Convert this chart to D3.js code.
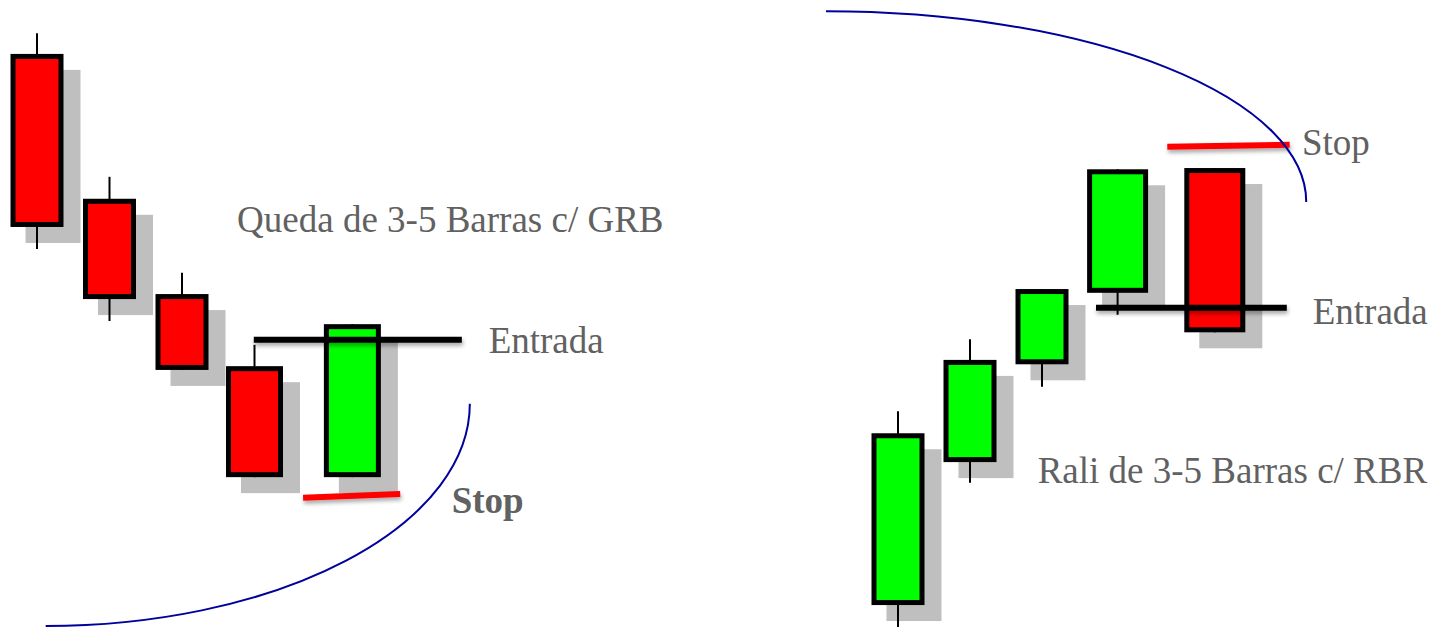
<!DOCTYPE html>
<html>
<head>
<meta charset="utf-8">
<script src="https://cdn.jsdelivr.net/npm/d3@7"></script>
<style>
  body { margin: 0; background: #fff; }
  svg { display: block; }
  .label { font-family: "Liberation Serif", "Times New Roman", serif; font-size: 37px; fill: #616161; }
</style>
</head>
<body>
<script>
// candle data, price units (0..100)
var leftOpen  = [91.4, 68.3, 53.1, 41.6, 23.9];
var leftHigh  = [94.7, 71.8, 56.5, 45.0, 48.3];
var leftLow   = [60.3, 48.8, 41.0, 23.9, 23.9];
var leftClose = [63.8, 52.3, 41.0, 23.9, 48.3];
var leftSlot  = [0, 1, 2, 3, 4.35];

var rightOpen  = [3.5, 26.3, 41.9, 53.3, 73.2];
var rightHigh  = [34.4, 45.9, 53.9, 73.0, 73.2];
var rightLow   = [-1.0, 23.0, 38.3, 49.8, 47.0];
var rightClose = [30.9, 42.6, 53.9, 73.0, 47.0];
var rightSlot  = [0, 1, 2, 3.05, 4.4];

// entry / stop levels: [x1, y1, x2, y2]
var leftEntry  = [2.99, 45.8, 5.86, 45.8];
var leftStop   = [3.67, 20.6, 5.01, 21.2];
var rightEntry = [2.75, 50.9, 5.40, 50.9];
var rightStop  = [3.74, 76.6, 5.44, 76.9];

// curve end points: [xStart, yStart, xEnd, yEnd]
var leftCurve  = [5.97, 35.6, 0.12, 0.16];
var rightCurve = [-1.0, 98.2, 5.67, 67.8];

// labels
var leftLabels  = ["Queda de 3-5 Barras c/ GRB", "Entrada", "Stop"];
var leftLabelX  = [2.76, 6.23, 5.72];
var leftLabelY  = [63.0, 43.7, 18.2];
var rightLabels = ["Rali de 3-5 Barras c/ RBR", "Entrada", "Stop"];
var rightLabelX = [1.94, 5.76, 5.61];
var rightLabelY = [23.0, 48.3, 75.3];

var width = 1435, height = 627;

var svg = d3.select("body").append("svg")
    .attr("width", width)
    .attr("height", height);

// drop shadow under the entry/stop lines (user space, so flat lines still show)
var defs = svg.append("defs");
var f = defs.append("filter").attr("id", "lineShadow")
    .attr("filterUnits", "userSpaceOnUse")
    .attr("x", 0).attr("y", 0).attr("width", width).attr("height", height);
f.append("feDropShadow")
    .attr("dx", 1).attr("dy", 3).attr("stdDeviation", 2)
    .attr("flood-color", "#000").attr("flood-opacity", 0.35);

var y = d3.scaleLinear().domain([0, 100]).range([627, 0]);

var drawPanel = function(cfg) {
    var x = d3.scaleLinear().domain([0, 1]).range(cfg.xRange);
    var data = cfg.open.map(function(o, i) {
        return {open: o, high: cfg.high[i], low: cfg.low[i], close: cfg.close[i], slot: cfg.slot[i],
                w: i >= cfg.open.length - 2 ? cfg.wideW : 53};
    });
    var g = svg.append("g");
    var bw = 5; // border

    // shadows
    g.selectAll(".shadow").data(data).enter().append("rect")
        .attr("class", "shadow")
        .attr("x", function(d) { return x(d.slot) - d.w / 2 + 15; })
        .attr("y", function(d) { return y(Math.max(d.open, d.close)) + 16; })
        .attr("width", function(d) { return d.w + 2; })
        .attr("height", function(d) { return Math.abs(y(d.open) - y(d.close)); })
        .style("fill", "#bfbfbf");

    // wicks
    g.selectAll(".wick").data(data).enter().append("line")
        .attr("class", "wick")
        .attr("x1", function(d) { return x(d.slot); })
        .attr("x2", function(d) { return x(d.slot); })
        .attr("y1", function(d) { return y(d.high); })
        .attr("y2", function(d) { return y(d.low); })
        .style("stroke", "#000")
        .style("stroke-width", 2);

    // bodies
    g.selectAll(".body").data(data).enter().append("rect")
        .attr("class", "body")
        .attr("x", function(d) { return x(d.slot) - d.w / 2 + bw / 2; })
        .attr("y", function(d) { return y(Math.max(d.open, d.close)) + bw / 2; })
        .attr("width", function(d) { return d.w - bw; })
        .attr("height", function(d) { return Math.abs(y(d.open) - y(d.close)) - bw; })
        .style("fill", function(d) { return d.close > d.open ? "#00ff00" : "#ff0000"; })
        .style("stroke", "#000")
        .style("stroke-width", bw);

    // entry and stop lines
    var lvl = [{v: cfg.entry, c: "#000"}, {v: cfg.stop, c: "#ff0000"}];
    g.selectAll(".level").data(lvl).enter().append("line")
        .attr("class", "level")
        .attr("x1", function(d) { return x(d.v[0]); })
        .attr("y1", function(d) { return y(d.v[1]); })
        .attr("x2", function(d) { return x(d.v[2]); })
        .attr("y2", function(d) { return y(d.v[3]); })
        .style("stroke", function(d) { return d.c; })
        .style("stroke-width", 6)
        .attr("filter", "url(#lineShadow)");

    // curve (quarter ellipse)
    var c = cfg.curve;
    var x0 = x(c[0]), y0 = y(c[1]), x1 = x(c[2]), y1 = y(c[3]);
    g.append("path")
        .attr("d", "M" + x0 + "," + y0 + " A" + Math.abs(x1 - x0) + "," + Math.abs(y1 - y0) + " 0 0 1 " + x1 + "," + y1)
        .style("fill", "none")
        .style("stroke", "#00009c")
        .style("stroke-width", 2);

    // labels
    g.selectAll(".label").data(cfg.labels).enter().append("text")
        .attr("class", "label")
        .attr("x", function(d, i) { return x(cfg.labelX[i]); })
        .attr("y", function(d, i) { return y(cfg.labelY[i]); })
        .style("font-weight", function(d, i) { return cfg.boldStop && d == "Stop" ? "bold" : "normal"; })
        .text(function(d) { return d; });
};

drawPanel({xRange: [37, 109.5], open: leftOpen, high: leftHigh, low: leftLow, close: leftClose, slot: leftSlot,
    wideW: 57, entry: leftEntry, stop: leftStop, curve: leftCurve,
    labels: leftLabels, labelX: leftLabelX, labelY: leftLabelY, boldStop: true});

drawPanel({xRange: [898, 970], open: rightOpen, high: rightHigh, low: rightLow, close: rightClose, slot: rightSlot,
    wideW: 61, entry: rightEntry, stop: rightStop, curve: rightCurve,
    labels: rightLabels, labelX: rightLabelX, labelY: rightLabelY, boldStop: false});
</script>
</body>
</html>
